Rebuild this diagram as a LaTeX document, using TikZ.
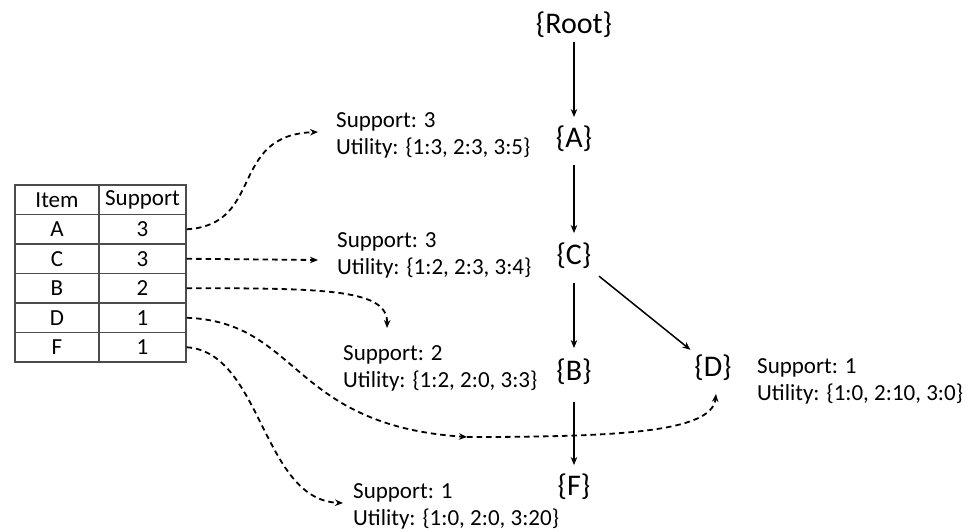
\documentclass[tikz,border=0pt]{standalone}
\usepackage{fontspec}
\setmainfont{Carlito}
\usetikzlibrary{arrows.meta}
\begin{document}
\begin{tikzpicture}[x=1pt,y=-1pt,
  tn/.style={inner sep=0pt, font=\fontsize{30}{36}\selectfont},
  lab/.style={anchor=north west, inner sep=0pt, align=left, font=\fontsize{23}{27.5}\selectfont},
  cell/.style={draw=black!70, line width=1.2pt, inner sep=0pt, minimum height=29.5pt, font=\fontsize{23}{27}\selectfont},
  c1/.style={cell, minimum width=84pt},
  c2/.style={cell, minimum width=87pt},
  tree/.style={line width=1.5pt, -{Stealth[length=8pt,width=6.5pt]}},
  dasharrow/.style={line width=1.8pt, dash pattern=on 5.5pt off 4pt, -{Stealth[length=8pt,width=6.5pt]}}]
\useasboundingbox (0,0) rectangle (979,531);
% tree nodes
\node[tn] (Root) at (574,25) {\{Root\}};
\node[tn] (A) at (574,139) {\{A\}};
\node[tn] (C) at (574,256) {\{C\}};
\node[tn] (B) at (574,372) {\{B\}};
\node[tn] (F) at (574,487) {\{F\}};
\node[tn] (D) at (713,368) {\{D\}};
\draw[tree, shorten <=17pt, shorten >=22pt] (Root.center) -- (A.center);
\draw[tree, shorten <=26pt, shorten >=23pt] (A.center) -- (C.center);
\draw[tree, shorten <=27pt, shorten >=24pt] (C.center) -- (B.center);
\draw[tree, shorten <=30pt, shorten >=22pt] (B.center) -- (F.center);
\draw[tree, shorten <=32pt, shorten >=29pt] (C.center) -- (D.center);
% labels
\node[lab] (Alab) at (336,112) {Support: 3\\Utility: \{1:3, 2:3, 3:5\}};
\node[lab] (Clab) at (337,232) {Support: 3\\Utility: \{1:2, 2:3, 3:4\}};
\node[lab] (Blab) at (343,345) {Support: 2\\Utility: \{1:2, 2:0, 3:3\}};
\node[lab] (Flab) at (353,483) {Support: 1\\Utility: \{1:0, 2:0, 3:20\}};
\node[lab] (Dlab) at (757,358) {Support: 1\\Utility: \{1:0, 2:10, 3:0\}};
% table
\node[c1] (h1) at (57,199.75) {Item};
\node[c2] (h2) at (142.5,199.75) {Support};
\node[c1] (a1) at (57,229.25) {A};
\node[c2] (tA) at (142.5,229.25) {3};
\node[c1] (c1) at (57,258.75) {C};
\node[c2] (tC) at (142.5,258.75) {3};
\node[c1] (b1) at (57,288.25) {B};
\node[c2] (tB) at (142.5,288.25) {2};
\node[c1] (d1) at (57,317.75) {D};
\node[c2] (tD) at (142.5,317.75) {1};
\node[c1] (f1) at (57,347.25) {F};
\node[c2] (tF) at (142.5,347.25) {1};
% free ends
\coordinate (aTip) at (318,132);
\coordinate (cTip) at (318,260);
\coordinate (bTip) at (387,328);
\coordinate (dMid) at (467,437);
\coordinate (dTip) at (716,394);
\coordinate (fTip) at (343,503);
% dashed connectors
\draw[dasharrow] (tA.east) .. controls (265,225) and (228,135) .. (aTip);
\draw[dasharrow] (tC.east) -- (cTip);
\draw[dasharrow] (tB.east) .. controls (330,288) and (388,290) .. (bTip);
\draw[dasharrow] (tD.east) .. controls (300,322) and (290,425) .. (dMid);
\draw[dasharrow] (dMid) .. controls (620,437) and (712,432) .. (dTip);
\draw[dasharrow] (tF.east) .. controls (262,352) and (262,500) .. (fTip);
\end{tikzpicture}
\end{document}
